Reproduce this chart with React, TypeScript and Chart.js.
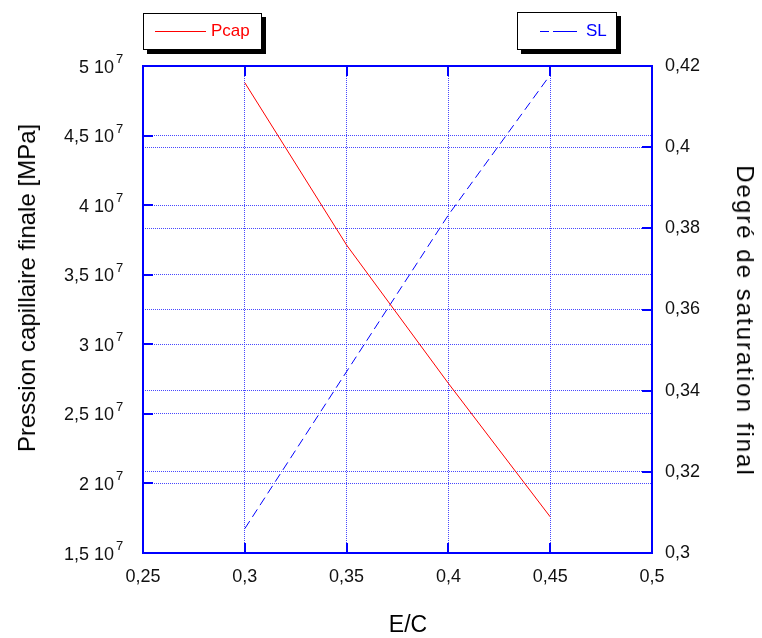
import React, { useEffect, useRef } from 'react';
import { Chart, registerables } from 'chart.js';

Chart.register(...registerables);

// ---- data ----
const ecValues = [0.3, 0.35, 0.4, 0.45];
const pcapValues = [4.88e7, 3.713e7, 2.719e7, 1.76e7];
const slValues = [0.306, 0.3447, 0.3833, 0.4178];

// ---- axis ranges ----
const xMin = 0.25;
const xMax = 0.5;
const xStep = 0.05;
const leftMin = 1.5e7;
const leftMax = 5e7;
const leftStep = 5e6;
const rightMin = 0.3;
const rightMax = 0.42;
const rightStep = 0.02;

const FONT = '"Liberation Sans", Arial, Helvetica, sans-serif';
const BLUE = '#0000ff';
const GRID = 'rgba(40,40,255,0.85)';

const comma = (v: number, digits: number) =>
  String(parseFloat(v.toFixed(digits))).replace('.', ',');

const framePlugin = {
  id: 'frameTicks',
  afterDraw(chart: any) {
    const { ctx, chartArea, scales } = chart;
    const { left, right, top, bottom } = chartArea;
    const L = 10;
    ctx.save();
    ctx.strokeStyle = BLUE;
    ctx.lineWidth = 2;
    ctx.beginPath();
    ctx.moveTo(left, top);
    ctx.lineTo(right, top);
    ctx.stroke();
    ctx.beginPath();
    scales.x.ticks.forEach((t: any) => {
      const p = Math.round(scales.x.getPixelForValue(t.value));
      ctx.moveTo(p, bottom);
      ctx.lineTo(p, bottom - L);
      ctx.moveTo(p, top);
      ctx.lineTo(p, top + L);
    });
    scales.y.ticks.forEach((t: any) => {
      const p = Math.round(scales.y.getPixelForValue(t.value));
      ctx.moveTo(left, p);
      ctx.lineTo(left + L, p);
    });
    scales.y1.ticks.forEach((t: any) => {
      const p = Math.round(scales.y1.getPixelForValue(t.value));
      ctx.moveTo(right, p);
      ctx.lineTo(right - L, p);
    });
    ctx.stroke();

    // left tick labels "m 10^7" with a real superscript
    ctx.fillStyle = '#111';
    scales.y.ticks.forEach((t: any) => {
      const p = scales.y.getPixelForValue(t.value);
      const mant = comma(t.value / 1e7, 2) + ' 10';
      ctx.font = `18px ${FONT}`;
      ctx.textAlign = 'right';
      ctx.textBaseline = 'alphabetic';
      const xEnd = left - 29;
      ctx.fillText(mant, xEnd, p + 6.5);
      ctx.font = `13px ${FONT}`;
      ctx.textAlign = 'left';
      ctx.fillText('7', xEnd + 2, p - 3);
    });
    ctx.restore();
  },
};

export default function App() {
  const ref = useRef<HTMLCanvasElement | null>(null);

  useEffect(() => {
    if (!ref.current) return;
    const chart = new Chart(ref.current, {
      type: 'line',
      data: {
        datasets: [
          {
            label: 'Pcap',
            data: ecValues.map((x, i) => ({ x, y: pcapValues[i] })),
            borderColor: '#ff0000',
            borderWidth: 1,
            pointRadius: 0,
            tension: 0,
            yAxisID: 'y',
          },
          {
            label: 'SL',
            data: ecValues.map((x, i) => ({ x, y: slValues[i] })),
            borderColor: BLUE,
            borderWidth: 1,
            borderDash: [9, 5],
            pointRadius: 0,
            tension: 0,
            yAxisID: 'y1',
          },
        ],
      },
      options: {
        animation: false,
        responsive: false,
        devicePixelRatio: 1,
        layout: { padding: { top: 66, left: 0, right: 0, bottom: 0 } },
        plugins: { legend: { display: false }, tooltip: { enabled: false } },
        scales: {
          x: {
            type: 'linear',
            position: 'bottom',
            min: xMin,
            max: xMax,
            ticks: {
              stepSize: xStep,
              padding: 13,
              color: '#111',
              font: { family: FONT, size: 18 },
              callback: (v: any) => comma(Number(v), 2),
            },
            grid: { color: GRID, lineWidth: 1, drawTicks: false },
            border: { color: BLUE, width: 2, dash: [1, 1] },
            afterFit: (s: any) => {
              s.height = 85;
            },
          },
          y: {
            type: 'linear',
            position: 'left',
            min: leftMin,
            max: leftMax,
            ticks: {
              stepSize: leftStep,
              display: false,
            },
            grid: { color: GRID, lineWidth: 1, drawTicks: false },
            border: { color: BLUE, width: 2, dash: [1, 1] },
            afterFit: (s: any) => {
              s.width = 143;
            },
          },
          y1: {
            type: 'linear',
            position: 'right',
            min: rightMin,
            max: rightMax,
            ticks: {
              stepSize: rightStep,
              padding: 13,
              color: '#111',
              font: { family: FONT, size: 18 },
              callback: (v: any) => comma(Number(v), 2),
            },
            grid: { color: GRID, lineWidth: 1, drawTicks: false, drawOnChartArea: true },
            border: { color: BLUE, width: 2, dash: [1, 1] },
            afterFit: (s: any) => {
              s.width = 110;
            },
          },
        },
      },
      plugins: [framePlugin],
    } as any);
    return () => chart.destroy();
  }, []);

  const boxStyle: React.CSSProperties = {
    position: 'absolute',
    background: '#fff',
    border: '1px solid #000',
    boxShadow: '4px 4px 0 #000',
    boxSizing: 'border-box',
  };

  return (
    <div
      style={{
        position: 'absolute',
        left: 0,
        top: 0,
        width: 762,
        height: 638,
        background: '#fff',
        fontFamily: FONT,
        overflow: 'hidden',
      }}
    >
      <canvas ref={ref} width={762} height={638} style={{ position: 'absolute', left: 0, top: 0 }} />

      {/* legend Pcap */}
      <div style={{ ...boxStyle, left: 143, top: 13, width: 119, height: 37 }}>
        <div style={{ position: 'absolute', left: 11, top: 17, width: 51, borderTop: '1px solid #ff0000' }} />
        <div style={{ position: 'absolute', left: 67, top: 7, fontSize: 17, color: '#ff0000', lineHeight: '20px' }}>Pcap</div>
      </div>

      {/* legend SL */}
      <div style={{ ...boxStyle, left: 517, top: 12, width: 100, height: 38 }}>
        <div style={{ position: 'absolute', left: 22, top: 18, width: 9, borderTop: '1px solid #0000ff' }} />
        <div style={{ position: 'absolute', left: 35, top: 18, width: 24, borderTop: '1px solid #0000ff' }} />
        <div style={{ position: 'absolute', left: 68, top: 8, fontSize: 17, color: '#0000ff', lineHeight: '20px' }}>SL</div>
      </div>

      {/* axis titles */}
      <div
        style={{
          position: 'absolute',
          left: 27,
          top: 288,
          transform: 'translate(-50%, -50%) rotate(-90deg)',
          whiteSpace: 'nowrap',
          fontSize: 24,
          color: '#000',
        }}
      >
        Pression capillaire finale [MPa]
      </div>
      <div
        style={{
          position: 'absolute',
          left: 745,
          top: 321,
          transform: 'translate(-50%, -50%) rotate(90deg)',
          whiteSpace: 'nowrap',
          fontSize: 24,
          letterSpacing: 2,
          color: '#000',
        }}
      >
        Degré de saturation final
      </div>
      <div
        style={{
          position: 'absolute',
          left: 408,
          top: 624,
          transform: 'translate(-50%, -50%)',
          whiteSpace: 'nowrap',
          fontSize: 23,
          color: '#000',
        }}
      >
        E/C
      </div>
    </div>
  );
}
